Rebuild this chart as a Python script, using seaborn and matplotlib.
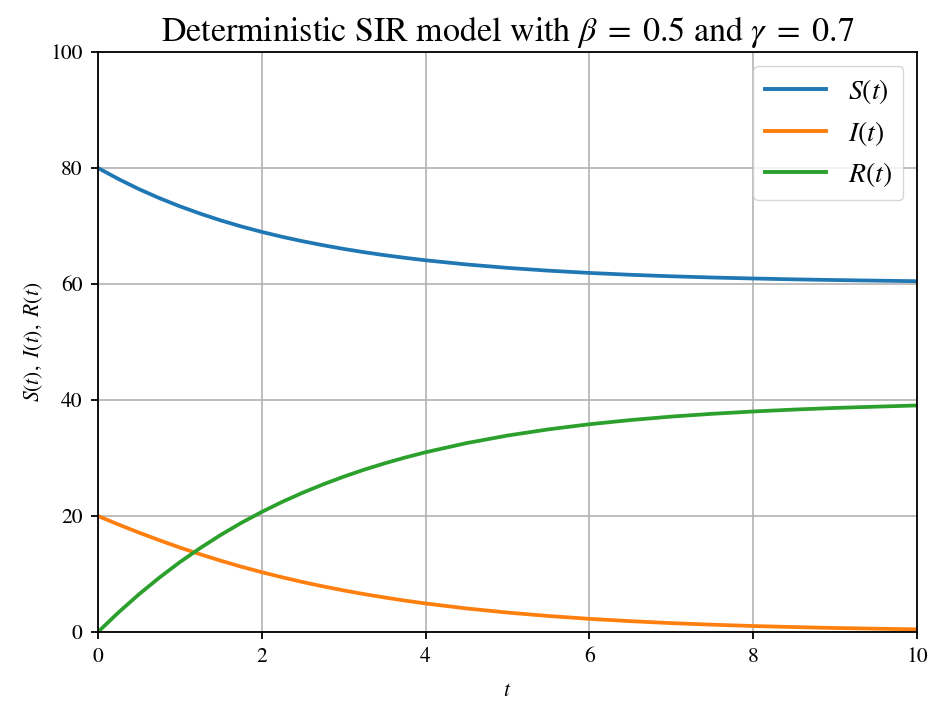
import numpy as np
import pandas as pd
import matplotlib
matplotlib.use("Agg")
import matplotlib.pyplot as plt
import seaborn as sns

# Time grid and compartment sizes of the deterministic SIR run
t = [0.0, 0.25, 0.5, 0.75, 1.0, 1.25, 1.5, 1.75, 2.0, 2.25, 2.5, 2.75, 3.0, 3.25, 3.5, 3.75, 4.0,
     4.5, 5.0, 5.5, 6.0, 6.5, 7.0, 7.5, 8.0, 8.5, 9.0, 9.5, 10.0]
susceptible = [80.00, 78.10, 76.36, 74.80, 73.39, 72.12, 70.96, 69.92, 68.98, 68.13, 67.37, 66.68,
               66.05, 65.48, 64.97, 64.51, 64.09,
               63.37, 62.78, 62.30, 61.91, 61.59, 61.33, 61.12, 60.95, 60.80, 60.68, 60.58, 60.48]
infected = [20.00, 18.53, 17.14, 15.82, 14.56, 13.39, 12.29, 11.26, 10.31, 9.43, 8.61, 7.86,
            7.17, 6.53, 5.95, 5.41, 4.92,
            4.06, 3.35, 2.76, 2.27, 1.87, 1.53, 1.26, 1.03, 0.85, 0.69, 0.57, 0.46]
recovered = [0.00, 3.37, 6.50, 9.38, 12.05, 14.49, 16.75, 18.82, 20.71, 22.44, 24.02, 25.46,
             26.78, 27.99, 29.08, 30.08, 30.99,
             32.57, 33.87, 34.94, 35.82, 36.54, 37.14, 37.62, 38.02, 38.35, 38.63, 38.85, 39.06]
labels = ["$S(t)$", "$I(t)$", "$R(t)$"]
colors = ["#1f77b4", "#ff7f0e", "#2ca02c"]
x_ticks = [0, 2, 4, 6, 8, 10]
y_ticks = [0, 20, 40, 60, 80, 100]

df = pd.concat([
    pd.DataFrame({"t": t, "value": vals, "series": lab})
    for vals, lab in zip([susceptible, infected, recovered], labels)
], ignore_index=True)

plt.rcParams["font.family"] = ["STIXGeneral", "DejaVu Serif"]
plt.rcParams["mathtext.fontset"] = "stix"

fig = plt.figure(figsize=(9.36, 7.04), dpi=100)
ax = fig.add_axes([98 / 936, 1 - 632 / 704, (917 - 98) / 936, (632 - 52) / 704])

sns.lineplot(data=df, x="t", y="value", hue="series", hue_order=labels,
             palette=colors, linewidth=2.7, ax=ax, sort=False)

ax.set_xlim(0, 10)
ax.set_ylim(0, 100)
ax.set_xticks(x_ticks)
ax.set_yticks(y_ticks)
ax.grid(True, color="#b0b0b0", linewidth=1.15)
ax.set_axisbelow(True)
for sp in ax.spines.values():
    sp.set_linewidth(1.3)
    sp.set_color("black")
ax.tick_params(labelsize=15.5, length=5, width=1.3, pad=6)

ax.set_xlabel("$t$", fontsize=15.5, labelpad=10)
ax.set_ylabel("$S(t),\\ I(t),\\ R(t)$", fontsize=15.5, labelpad=4)
ax.set_title("Deterministic SIR model with $\\beta\\;=\\;0.5$ and $\\gamma\\;=\\;0.7$",
             fontsize=24.5, pad=8)

leg = ax.legend(loc="upper right", fontsize=20, frameon=True, fancybox=True,
                framealpha=0.8, edgecolor="#cccccc", handlelength=2.2,
                borderaxespad=0.5, labelspacing=0.45)
leg.set_title(None)
for line in leg.get_lines():
    line.set_linewidth(2.8)

fig.savefig("out.png", dpi=100)
